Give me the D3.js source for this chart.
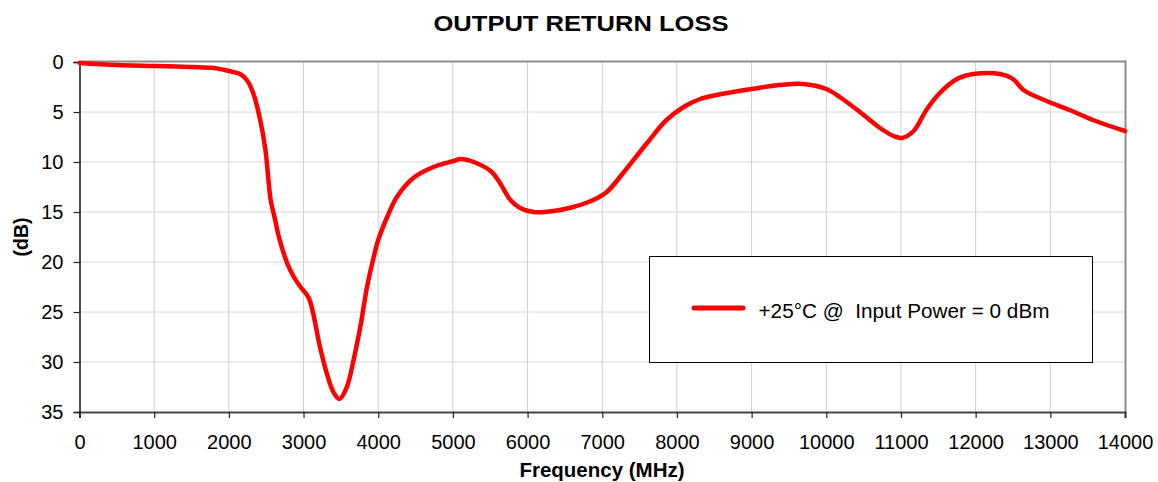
<!DOCTYPE html>
<html>
<head>
<meta charset="utf-8">
<script src="https://cdn.jsdelivr.net/npm/d3@7"></script>
<style>
  html, body { margin: 0; padding: 0; background: #fff; }
  text { font-family: Arial, "Liberation Sans", sans-serif; fill: #000; }
</style>
</head>
<body>
<svg id="chart" width="1158" height="482"></svg>
<script>
const titleText = "OUTPUT RETURN LOSS";
const xLabel = "Frequency (MHz)";
const yLabel = "(dB)";
const seriesName = "+25°C @  Input Power = 0 dBm";
const xTicks = [0, 1000, 2000, 3000, 4000, 5000, 6000, 7000, 8000, 9000, 10000, 11000, 12000, 13000, 14000];
const yTicks = [0, 5, 10, 15, 20, 25, 30, 35];
const freq = [0, 500, 1000, 1500, 1800, 2000, 2150, 2240, 2330, 2420, 2490, 2530, 2560, 2620, 2670, 2780, 2870, 2960, 3070, 3220, 3310, 3400, 3480, 3580, 3670, 3760, 3850, 3940, 4000, 4120, 4250, 4470, 4740, 5010, 5100, 5280, 5520, 5630, 5770, 5900, 6080, 6350, 6610, 6880, 7060, 7280, 7600, 7860, 8090, 8310, 8530, 9000, 9380, 9690, 10000, 10180, 10450, 10720, 10900, 11010, 11170, 11340, 11520, 11750, 11970, 12330, 12500, 12640, 12950, 13260, 13570, 14000];
const lossDb = [0.1, 0.3, 0.4, 0.5, 0.6, 0.9, 1.2, 1.8, 3.2, 5.8, 8.8, 11.8, 13.8, 15.8, 17.5, 20.1, 21.5, 22.5, 23.6, 28.5, 31.1, 33.0, 33.7, 32.5, 29.8, 26.5, 22.5, 19.5, 17.8, 15.5, 13.5, 11.6, 10.5, 9.9, 9.7, 10.0, 11.0, 12.1, 13.8, 14.6, 15.0, 14.9, 14.5, 13.8, 13.0, 11.1, 8.1, 5.8, 4.5, 3.7, 3.3, 2.7, 2.3, 2.2, 2.7, 3.5, 5.0, 6.6, 7.4, 7.6, 6.9, 4.8, 3.1, 1.7, 1.2, 1.2, 1.7, 2.8, 3.9, 4.8, 5.8, 6.9];

const svg = d3.select("#chart");
const L = 79.5, R = 1125, T = 62, B = 412;

const x = d3.scaleLinear().domain([0, 14000]).range([L, R]);
const y = d3.scaleLinear().domain([0, 35]).range([T, B]);

// gridlines
svg.append("g").selectAll("line").data(xTicks.slice(1, -1)).join("line")
  .attr("x1", d => x(d)).attr("x2", d => x(d)).attr("y1", T).attr("y2", B)
  .attr("stroke", "#cfcfcf").attr("stroke-width", 1);
svg.append("g").selectAll("line").data(yTicks.slice(1, -1)).join("line")
  .attr("x1", L).attr("x2", R).attr("y1", d => y(d)).attr("y2", d => y(d))
  .attr("stroke", "#d6d6d6").attr("stroke-width", 1);

// top & right frame
svg.append("line").attr("x1", L).attr("x2", R + 1).attr("y1", T - 0.5).attr("y2", T - 0.5)
  .attr("stroke", "#8c8c8c").attr("stroke-width", 2);
svg.append("line").attr("x1", R + 0.5).attr("x2", R + 0.5).attr("y1", T - 1.5).attr("y2", B)
  .attr("stroke", "#8c8c8c").attr("stroke-width", 2);

// axes
const xAxis = svg.append("g").attr("transform", `translate(0,${B})`)
  .call(d3.axisBottom(x).tickValues(xTicks).tickFormat(d3.format("d")).tickSize(6).tickPadding(17));
xAxis.select(".domain").attr("stroke", "#444").attr("stroke-width", 2);
xAxis.selectAll(".tick line").attr("stroke", "#222").attr("stroke-width", 1.2);
xAxis.selectAll("text").attr("font-size", 20).attr("font-family", "Arial, 'Liberation Sans', sans-serif").attr("fill", "#000");

const yAxis = svg.append("g").attr("transform", `translate(${L},0)`)
  .call(d3.axisLeft(y).tickValues(yTicks).tickFormat(d3.format("d")).tickSize(6).tickPadding(10));
yAxis.select(".domain").attr("stroke", "#111").attr("stroke-width", 1.5);
yAxis.selectAll(".tick line").attr("stroke", "#222").attr("stroke-width", 1.2);
yAxis.selectAll("text").attr("font-size", 20).attr("font-family", "Arial, 'Liberation Sans', sans-serif").attr("fill", "#000");

// series
const pts = freq.map((f, i) => [f, lossDb[i]]);
svg.append("path").datum(pts)
  .attr("d", d3.line().x(d => x(d[0])).y(d => y(d[1])).curve(d3.curveCatmullRom.alpha(0.5)))
  .attr("fill", "none").attr("stroke", "#ff0000").attr("stroke-width", 4.5)
  .attr("stroke-linejoin", "round").attr("stroke-linecap", "round");

// legend
const lg = svg.append("g");
lg.append("rect").attr("x", 649.5).attr("y", 256.5).attr("width", 443).attr("height", 106)
  .attr("fill", "#fff").attr("stroke", "#000").attr("stroke-width", 1);
lg.append("line").attr("x1", 694).attr("x2", 743).attr("y1", 308).attr("y2", 308)
  .attr("stroke", "#ff0000").attr("stroke-width", 5).attr("stroke-linecap", "round");
lg.append("text").attr("x", 758.5).attr("y", 318).attr("font-size", 20.5)
  .style("white-space", "pre")
  .attr("textLength", 291).attr("lengthAdjust", "spacingAndGlyphs").text(seriesName);

// titles
svg.append("text").attr("x", 581).attr("y", 30.5).attr("text-anchor", "middle")
  .attr("font-size", 22).attr("font-weight", "bold")
  .attr("textLength", 295).attr("lengthAdjust", "spacingAndGlyphs").text(titleText);
svg.append("text").attr("x", 602).attr("y", 476.5).attr("text-anchor", "middle")
  .attr("font-size", 20.5).attr("font-weight", "bold").text(xLabel);
svg.append("text").attr("transform", "translate(28,237) rotate(-90)").attr("text-anchor", "middle")
  .attr("font-size", 19.5).attr("font-weight", "bold").text(yLabel);
</script>
</body>
</html>
